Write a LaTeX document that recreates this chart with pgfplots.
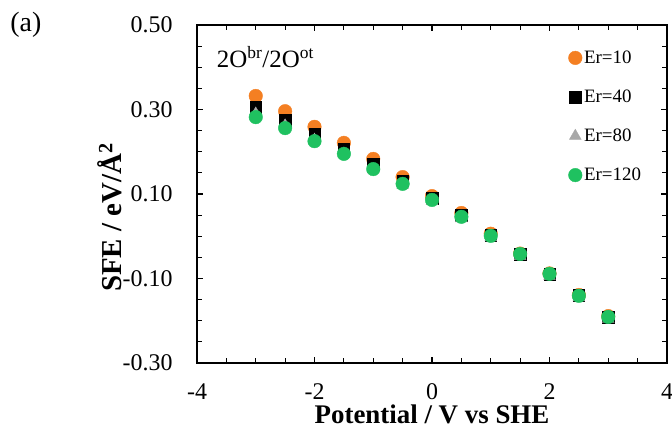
\documentclass[border=0pt]{standalone}
\usepackage{pgfplots}
\pgfplotsset{compat=1.18}
\usepackage{fontspec}
\setmainfont{Liberation Serif}
\definecolor{erorange}{HTML}{F47F22}
\definecolor{ergreen}{HTML}{1FC160}
\definecolor{ergray}{HTML}{A8A8A8}

\begin{document}
\begin{tikzpicture}[x=1bp,y=1bp]
\begin{axis}[
    scale only axis,
    width=470bp, height=338bp,
    xmin=-4, xmax=4, ymin=-0.30, ymax=0.50,
    xtick={-4,-2,0,2,4},
    ytick={-0.30,-0.10,0.10,0.30,0.50},
    minor x tick num=3,
    minor y tick num=3,
    tick align=inside,
    major tick length=6bp, minor tick length=5bp,
    every tick/.style={black, line width=1.1pt},
    axis line style={line width=1.2pt},
    /pgf/number format/assume math mode=true,
    yticklabel={\pgfmathprintnumber[fixed,fixed zerofill,precision=2]{\tick}},
    ticklabel style={font=\fontsize{24}{24}\selectfont},
    xticklabel style={yshift=-17bp},
    yticklabel style={xshift=-21bp},
    xlabel={\textbf{Potential / V vs SHE}},
    ylabel={\textbf{SFE / eV/Å\textsuperscript{2}}},
    every axis x label/.style={at={(axis description cs:0.5,-0.153)}, anchor=center,
        font=\fontsize{27}{27}\selectfont},
    every axis y label/.style={at={(axis description cs:-0.186,0.43)}, anchor=center, rotate=90,
        font=\fontsize{29}{29}\selectfont},
    legend style={at={(axis description cs:0.79,0.93)}, anchor=north west,
        draw=none, fill=none, font=\fontsize{19}{19}\selectfont,
        row sep=21bp, inner sep=0pt},
    legend cell align=left,
    legend image code/.code={\draw[#1] plot coordinates {(0.12cm,0cm)};},
    clip=false,
]
\addplot[only marks, mark=*, mark size=6.8bp, color=erorange] coordinates {
(-3,0.332) (-2.5,0.296) (-2,0.259) (-1.5,0.221) (-1,0.183) (-0.5,0.140)
(0,0.095) (0.5,0.055) (1,0.006) (1.5,-0.041) (2,-0.088) (2.5,-0.139) (3,-0.189)};
\addlegendentry{Er=10}
\addplot[only marks, mark=square*, mark size=5.8bp, color=black] coordinates {
(-3,0.306) (-2.5,0.275) (-2,0.241) (-1.5,0.207) (-1,0.170) (-0.5,0.131)
(0,0.090) (0.5,0.050) (1,0.003) (1.5,-0.043) (2,-0.090) (2.5,-0.140) (3,-0.191)};
\addlegendentry{Er=40}
\addplot[only marks, mark=triangle*, mark size=6.8bp, color=ergray] coordinates {
(-3,0.290) (-2.5,0.262) (-2,0.228) (-1.5,0.195) (-1,0.158) (-0.5,0.121)
(0,0.083) (0.5,0.042) (1,-0.003) (1.5,-0.047) (2,-0.094) (2.5,-0.145) (3,-0.196)};
\addlegendentry{Er=80}
\addplot[only marks, mark=*, mark size=6.8bp, color=ergreen] coordinates {
(-3,0.282) (-2.5,0.256) (-2,0.225) (-1.5,0.195) (-1,0.159) (-0.5,0.124)
(0,0.086) (0.5,0.046) (1,0.001) (1.5,-0.042) (2,-0.089) (2.5,-0.141) (3,-0.191)};
\addlegendentry{Er=120}
\node[anchor=west, font=\fontsize{25}{25}\selectfont] at (axis description cs:0.035,0.905)
    {2O\textsuperscript{br}/2O\textsuperscript{ot}};
\node[anchor=center, font=\fontsize{28}{28}\selectfont] at (axis description cs:-0.364,1.0) {(a)};
\coordinate (ll) at (rel axis cs:0,0);
\coordinate (ur) at (rel axis cs:1,1);
\end{axis}
\pgfresetboundingbox
\path[use as bounding box] ([xshift=-197bp,yshift=-67bp]ll) rectangle ([xshift=5bp,yshift=25bp]ur);
\end{tikzpicture}
\end{document}
